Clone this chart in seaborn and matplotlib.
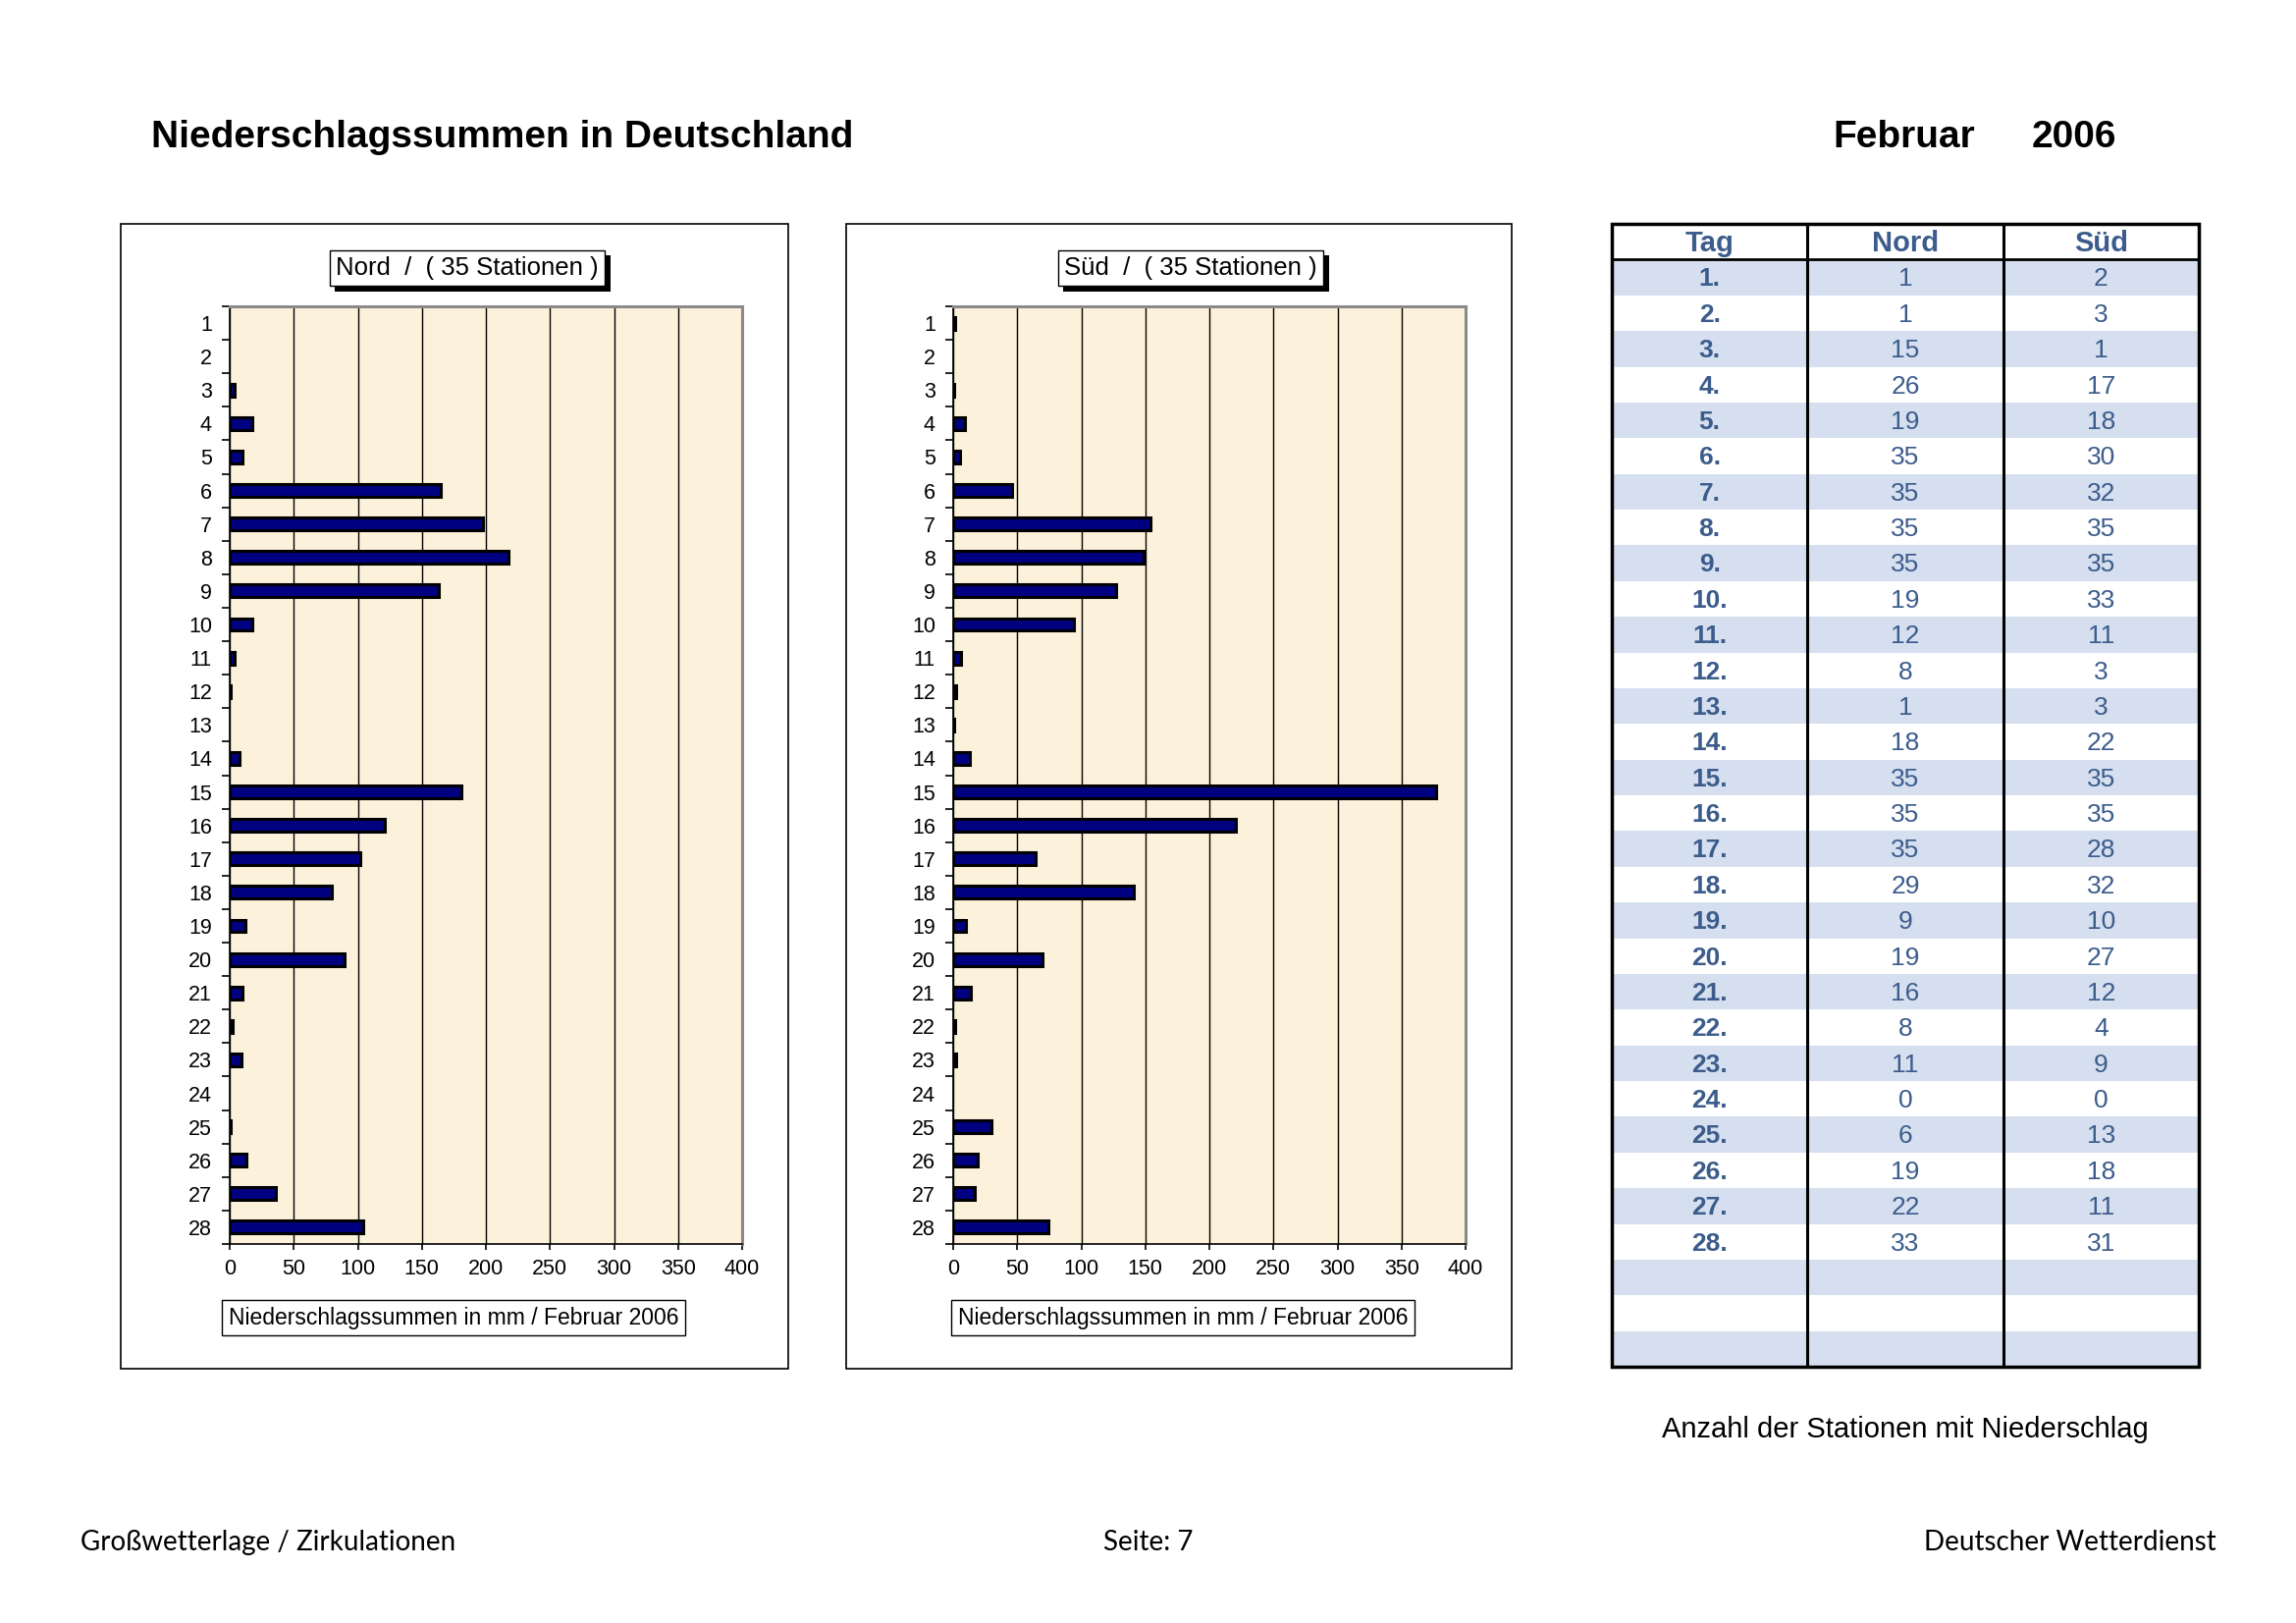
import numpy as np
import pandas as pd
import seaborn as sns
import matplotlib.pyplot as plt
from matplotlib import patheffects
from matplotlib.patches import Rectangle

# daily precipitation sums (mm)
days = [str(d) for d in range(1, 29)]
nord_mm = [0, 0, 4, 18, 10, 165, 198, 218, 163, 18, 4, 1, 0, 8,
           181, 121, 102, 80, 12, 90, 10, 2, 9, 0, 1, 13, 36, 104]
sued_mm = [1.5, 0, 1, 9, 5.5, 46, 154, 149, 127, 94, 6.5, 2.5, 1, 13,
           377, 221, 64, 141, 10, 70, 13.5, 1.5, 2.5, 0, 30, 19, 16.5, 74]

# number of stations with precipitation
nord_n = [1, 1, 15, 26, 19, 35, 35, 35, 35, 19, 12, 8, 1, 18,
          35, 35, 35, 29, 9, 19, 16, 8, 11, 0, 6, 19, 22, 33]
sued_n = [2, 3, 1, 17, 18, 30, 32, 35, 35, 33, 11, 3, 3, 22,
          35, 35, 28, 32, 10, 27, 12, 4, 9, 0, 13, 18, 11, 31]
n_rows = 31  # table has three empty rows at the end

x_ticks = list(range(0, 401, 50))

sns.set_theme(style="white")
plt.rcParams["font.family"] = ["Liberation Sans", "DejaVu Sans"]
for k in ["text.color", "axes.labelcolor", "xtick.color", "ytick.color"]:
    plt.rcParams[k] = "black"

W, H = 2339, 1653
PAPER = "#fcf1da"
BAR = "#000080"
TBLUE = "#3c5c8c"
STRIPE = "#d5dfef"


def rect(x0, y0, x1, y1):
    return [x0 / W, 1 - y1 / H, (x1 - x0) / W, (y1 - y0) / H]


fig = plt.figure(figsize=(W / 100, H / 100), dpi=100)
fig.patch.set_facecolor("white")

fig.text(154 / W, 1 - 140 / H, "Niederschlagssummen in Deutschland",
         fontsize=28, fontweight="bold", va="center", ha="left")
fig.text(1867 / W, 1 - 140 / H, "Februar", fontsize=28, fontweight="bold",
         va="center", ha="left")
fig.text(2070 / W, 1 - 140 / H, "2006", fontsize=28, fontweight="bold",
         va="center", ha="left")


def panel(frame, plot, values, title, title_x, label_x):
    fx0, fx1 = frame
    fig.patches.append(Rectangle((fx0 / W, 1 - 1394 / H), (fx1 - fx0) / W,
                                 (1394 - 228) / H, transform=fig.transFigure,
                                 fill=False, ec="black", lw=1.2))
    ax = fig.add_axes(rect(plot[0], 312, plot[1], 1267))
    df = pd.DataFrame({"Tag": days, "mm": values})
    sns.barplot(data=df, x="mm", y="Tag", order=days, orient="h", color=BAR,
                saturation=1, edgecolor="black", linewidth=2.2, width=0.38,
                ax=ax)
    for p in ax.patches:
        if p.get_width() == 0:
            p.set_visible(False)
    ax.set_facecolor(PAPER)
    ax.set_xlim(0, 400)
    ax.set_ylim(27.5, -0.5)
    ax.set_xticks(x_ticks)
    ax.set_axisbelow(True)
    ax.grid(axis="x", color="black", lw=1)
    ax.grid(axis="y", visible=False)
    ax.set_xlabel("")
    ax.set_ylabel("")
    ax.set_yticks(np.arange(-0.5, 28, 1), minor=True)
    ax.tick_params(axis="y", which="major", length=0, pad=13, labelsize=15.5)
    ax.tick_params(axis="y", which="minor", left=True, length=6, width=1.2,
                   color="black")
    ax.tick_params(axis="x", bottom=True, length=4, width=1.2, color="black",
                   pad=7, labelsize=15.5)
    for s in ["left", "bottom"]:
        ax.spines[s].set_color("black")
        ax.spines[s].set_linewidth(1.2)
    for s in ["top", "right"]:
        ax.spines[s].set_color("#8a8a8a")
        ax.spines[s].set_linewidth(2.2)

    t = fig.text(title_x / W, 1 - 273 / H, title, fontsize=18.5, ha="center",
                 va="center",
                 bbox=dict(boxstyle="square,pad=0.25", fc="white", ec="black",
                           lw=1.0))
    t.get_bbox_patch().set_path_effects([
        patheffects.withSimplePatchShadow(offset=(4, -4),
                                          shadow_rgbFace="black", alpha=1.0)])
    fig.text(label_x / W, 1 - 1342 / H,
             "Niederschlagssummen in mm / Februar 2006", fontsize=16.5,
             ha="center", va="center",
             bbox=dict(boxstyle="square,pad=0.28", fc="white", ec="black",
                       lw=1.0))
    return ax


panel((123, 803), (234, 756), nord_mm, "Nord  /  ( 35 Stationen )", 476, 462)
panel((862, 1540), (971, 1493), sued_mm, "Süd  /  ( 35 Stationen )", 1213, 1205)

# station table
tab = fig.add_axes(rect(1642, 228, 2240, 1392))
tab.set_xlim(0, 3)
tab.set_ylim(n_rows + 1, 0)
tab.axis("off")
rows = np.arange(n_rows)
tab.barh(rows[::2] + 1.5, 3, height=1, left=0, color=STRIPE, lw=0)
for x, head in zip([0.5, 1.5, 2.5], ["Tag", "Nord", "Süd"]):
    tab.text(x, 0.55, head, ha="center", va="center", fontsize=21,
             fontweight="bold", color=TBLUE)
for i, d in enumerate(days):
    y = i + 1.55
    tab.text(0.5, y, f"{d}.", ha="center", va="center", fontsize=19,
             fontweight="bold", color=TBLUE)
    tab.text(1.5, y, str(nord_n[i]), ha="center", va="center", fontsize=19,
             color=TBLUE)
    tab.text(2.5, y, str(sued_n[i]), ha="center", va="center", fontsize=19,
             color=TBLUE)
tab.vlines([1, 2], 0, n_rows + 1, color="black", lw=2.2)
tab.hlines(1, 0, 3, color="black", lw=2)
tab.add_patch(Rectangle((0, 0), 3, n_rows + 1, fill=False, ec="black",
                        lw=2.5, clip_on=False))

fig.text(1941 / W, 1 - 1456 / H, "Anzahl der Stationen mit Niederschlag",
         fontsize=21, ha="center", va="center")

foot = dict(fontsize=20, va="center", family=["Lato", "DejaVu Sans"])
fig.text(82 / W, 1 - 1571 / H, "Großwetterlage / Zirkulationen", ha="left", **foot)
fig.text(1170 / W, 1 - 1571 / H, "Seite: 7", ha="center", **foot)
fig.text(2258 / W, 1 - 1571 / H, "Deutscher Wetterdienst", ha="right", **foot)

fig.savefig("out.png", dpi=100, facecolor="white")
